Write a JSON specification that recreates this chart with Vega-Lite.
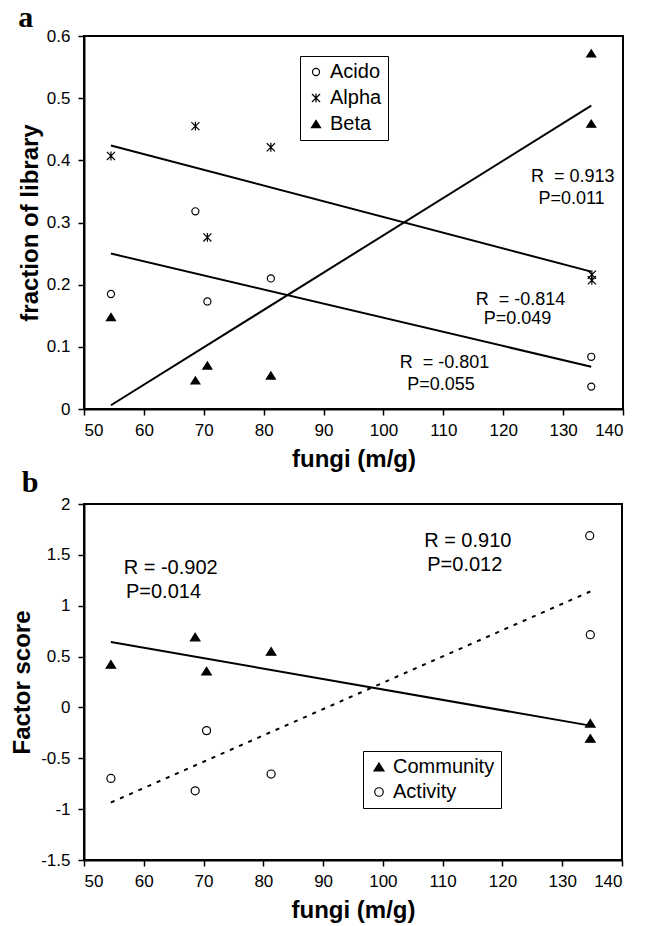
{
  "$schema": "https://vega.github.io/schema/vega-lite/v6.json",
  "background": "white",
  "padding": {"left": 9, "top": 2, "right": 5, "bottom": 2},
  "spacing": -5,
  "resolve": {
    "scale": {"shape": "independent", "fill": "independent", "size": "independent", "stroke": "independent"},
    "legend": {"shape": "independent", "fill": "independent", "size": "independent", "stroke": "independent"}
  },
  "config": {
    "font": "Liberation Sans",
    "view": {"stroke": "black", "strokeWidth": 2},
    "axis": {"grid": false, "domainColor": "black", "domainWidth": 2, "tickColor": "black", "tickWidth": 1.5, "tickSize": 6, "labelFont": "Liberation Sans", "labelFontSize": 17, "labelColor": "black", "titleFont": "Liberation Sans", "titleFontSize": 24, "titleFontWeight": "bold", "titleColor": "black"},
    "axisX": {"labelPadding": 7, "titlePadding": 9},
    "axisY": {"labelPadding": 8, "titlePadding": 4},
    "legend": {"strokeColor": "black", "labelFontSize": 20, "labelFont": "Liberation Sans", "labelColor": "black", "symbolStrokeWidth": 1.2, "labelOffset": 4, "padding": 6},
    "title": {"font": "Liberation Serif", "fontSize": 30, "fontWeight": "bold", "anchor": "start", "color": "black"}
  },
  "datasets": {
    "pointsA": [
      {"x": 54.5, "y": 0.185, "series": "Acido"},
      {"x": 68.6, "y": 0.318, "series": "Acido"},
      {"x": 70.6, "y": 0.173, "series": "Acido"},
      {"x": 81.2, "y": 0.210, "series": "Acido"},
      {"x": 134.7, "y": 0.084, "series": "Acido"},
      {"x": 134.7, "y": 0.036, "series": "Acido"},
      {"x": 54.5, "y": 0.407, "series": "Alpha"},
      {"x": 68.6, "y": 0.455, "series": "Alpha"},
      {"x": 70.6, "y": 0.276, "series": "Alpha"},
      {"x": 81.2, "y": 0.421, "series": "Alpha"},
      {"x": 134.8, "y": 0.216, "series": "Alpha"},
      {"x": 134.8, "y": 0.207, "series": "Alpha"},
      {"x": 54.5, "y": 0.148, "series": "Beta"},
      {"x": 68.6, "y": 0.046, "series": "Beta"},
      {"x": 70.6, "y": 0.070, "series": "Beta"},
      {"x": 81.2, "y": 0.054, "series": "Beta"},
      {"x": 134.7, "y": 0.572, "series": "Beta"},
      {"x": 134.7, "y": 0.459, "series": "Beta"}
    ],
    "linesA": [
      {"x": 54.5, "y": 0.424, "fit": "Alpha"},
      {"x": 134.7, "y": 0.221, "fit": "Alpha"},
      {"x": 54.5, "y": 0.250, "fit": "Acido"},
      {"x": 134.7, "y": 0.068, "fit": "Acido"},
      {"x": 54.5, "y": 0.006, "fit": "Beta"},
      {"x": 134.7, "y": 0.488, "fit": "Beta"}
    ],
    "textA": [
      {"x": 131.6, "y": 0.373, "label": "R\u00a0 = 0.913"},
      {"x": 131.4, "y": 0.338, "label": "P=0.011"},
      {"x": 122.9, "y": 0.1755, "label": "R\u00a0 = -0.814"},
      {"x": 122.4, "y": 0.144, "label": "P=0.049"},
      {"x": 110.2, "y": 0.074, "label": "R\u00a0 = -0.801"},
      {"x": 109.6, "y": 0.039, "label": "P=0.055"}
    ],
    "pointsB": [
      {"x": 54.5, "y": 0.423, "group": "Community"},
      {"x": 68.6, "y": 0.692, "group": "Community"},
      {"x": 70.5, "y": 0.357, "group": "Community"},
      {"x": 81.3, "y": 0.551, "group": "Community"},
      {"x": 134.7, "y": -0.156, "group": "Community"},
      {"x": 134.7, "y": -0.304, "group": "Community"},
      {"x": 54.5, "y": -0.698, "group": "Activity"},
      {"x": 68.6, "y": -0.820, "group": "Activity"},
      {"x": 70.5, "y": -0.228, "group": "Activity"},
      {"x": 81.3, "y": -0.655, "group": "Activity"},
      {"x": 134.6, "y": 1.688, "group": "Activity"},
      {"x": 134.7, "y": 0.715, "group": "Activity"}
    ],
    "lineCommunity": [
      {"x": 54.5, "y": 0.643},
      {"x": 134.7, "y": -0.179}
    ],
    "lineActivity": [
      {"x": 54.5, "y": -0.935},
      {"x": 134.7, "y": 1.14}
    ],
    "textB": [
      {"x": 64.5, "y": 1.366, "label": "R = -0.902"},
      {"x": 63.3, "y": 1.136, "label": "P=0.014"},
      {"x": 114.2, "y": 1.635, "label": "R = 0.910"},
      {"x": 113.7, "y": 1.405, "label": "P=0.012"}
    ]
  },
  "vconcat": [
    {
      "title": {"text": "a", "offset": -6},
      "width": 539,
      "height": 373,
      "encoding": {
        "x": {"field": "x", "type": "quantitative", "scale": {"domain": [50, 140], "nice": false, "zero": false}, "axis": {"title": "fungi (m/g)", "values": [50, 60, 70, 80, 90, 100, 110, 120, 130, 140]}},
        "y": {"field": "y", "type": "quantitative", "scale": {"domain": [0, 0.6], "nice": false, "zero": false}, "axis": {"title": "fraction of library", "format": "~g", "values": [0, 0.1, 0.2, 0.3, 0.4, 0.5, 0.6]}}
      },
      "layer": [
        {
          "data": {"name": "linesA"},
          "mark": {"type": "line", "color": "black", "strokeWidth": 2},
          "encoding": {"detail": {"field": "fit"}}
        },
        {
          "data": {"name": "pointsA"},
          "mark": {"type": "point", "filled": true, "strokeWidth": 1.2, "opacity": 1},
          "encoding": {
            "shape": {"field": "series", "type": "nominal", "scale": {"domain": ["Acido", "Alpha", "Beta"], "range": ["circle", "M-1,-1L1,1M-1,1L1,-1M0,-1.1L0,1.1", "M0,-0.8L1,0.8L-1,0.8Z"]}, "legend": {"title": null, "orient": "none", "legendX": 216, "legendY": 20, "rowPadding": 6}},
            "fill": {"field": "series", "type": "nominal", "scale": {"domain": ["Acido", "Alpha", "Beta"], "range": ["transparent", "transparent", "black"]}, "legend": {"title": null, "orient": "none", "legendX": 216, "legendY": 20, "rowPadding": 6}},
            "stroke": {"field": "series", "type": "nominal", "scale": {"domain": ["Acido", "Alpha", "Beta"], "range": ["black", "black", "black"]}, "legend": {"title": null, "orient": "none", "legendX": 216, "legendY": 20, "rowPadding": 6}},
            "size": {"field": "series", "type": "nominal", "scale": {"domain": ["Acido", "Alpha", "Beta"], "range": [50, 81, 121]}, "legend": {"title": null, "orient": "none", "legendX": 216, "legendY": 20, "rowPadding": 6}}
          }
        },
        {
          "data": {"name": "textA"},
          "mark": {"type": "text", "fontSize": 18, "font": "Liberation Sans", "color": "black", "align": "center", "baseline": "middle"},
          "encoding": {"text": {"field": "label"}}
        }
      ]
    },
    {
      "title": {"text": "b", "offset": -3, "dx": 11},
      "width": 538,
      "height": 356,
      "encoding": {
        "x": {"field": "x", "type": "quantitative", "scale": {"domain": [50, 140], "nice": false, "zero": false}, "axis": {"title": "fungi (m/g)", "values": [50, 60, 70, 80, 90, 100, 110, 120, 130, 140]}},
        "y": {"field": "y", "type": "quantitative", "scale": {"domain": [-1.5, 2], "nice": false, "zero": false}, "axis": {"title": "Factor score", "titlePadding": 6, "format": "~g", "values": [-1.5, -1, -0.5, 0, 0.5, 1, 1.5, 2], "labelExpr": "replace(datum.label, '\u2212', '-')"}}
      },
      "layer": [
        {
          "data": {"name": "lineCommunity"},
          "mark": {"type": "line", "color": "black", "strokeWidth": 2},
          "encoding": {}
        },
        {
          "data": {"name": "lineActivity"},
          "mark": {"type": "line", "color": "black", "strokeWidth": 2, "strokeDash": [4, 6]},
          "encoding": {}
        },
        {
          "data": {"name": "pointsB"},
          "mark": {"type": "point", "filled": true, "strokeWidth": 1.2, "opacity": 1, "size": 90},
          "encoding": {
            "shape": {"field": "group", "type": "nominal", "scale": {"domain": ["Community", "Activity"], "range": ["M0,-0.8L1,0.8L-1,0.8Z", "M0.85,0A0.85,0.85 0 1,1 -0.85,0A0.85,0.85 0 1,1 0.85,0Z"]}, "legend": {"title": null, "orient": "none", "legendX": 279, "legendY": 247, "rowPadding": 5}},
            "fill": {"field": "group", "type": "nominal", "scale": {"domain": ["Community", "Activity"], "range": ["black", "transparent"]}, "legend": {"title": null, "orient": "none", "legendX": 279, "legendY": 247, "rowPadding": 5}},
            "stroke": {"field": "group", "type": "nominal", "scale": {"domain": ["Community", "Activity"], "range": ["black", "black"]}, "legend": {"title": null, "orient": "none", "legendX": 279, "legendY": 247, "rowPadding": 5}}
          }
        },
        {
          "data": {"name": "textB"},
          "mark": {"type": "text", "fontSize": 20, "font": "Liberation Sans", "color": "black", "align": "center", "baseline": "middle"},
          "encoding": {"text": {"field": "label"}}
        }
      ]
    }
  ]
}
